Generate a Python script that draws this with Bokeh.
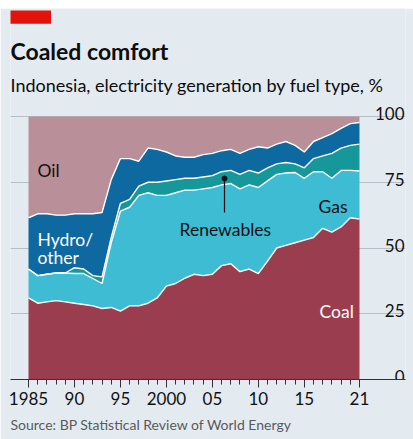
import numpy as np
from bokeh.plotting import figure
from bokeh.layouts import column
from bokeh.models import (ColumnDataSource, FixedTicker, Label, BoxAnnotation, Range1d,
                          Spacer, Title)
from bokeh.core.properties import value
from bokeh.embed import file_html
from bokeh.resources import INLINE

# ---------------- data (shares of electricity generation, %) ----------------
years = list(range(1985, 2022))
coal = [31, 29, 29.5, 30, 29.5, 29, 28.5, 28, 27, 27.4, 26, 28, 28, 29, 31, 35.5,
        36.5, 38.5, 40, 39.5, 40, 43.3, 44, 41, 42, 40.3, 45, 50, 51, 52, 53, 54,
        57.5, 56, 58, 61.5, 61]
gas = [11, 10.5, 10.5, 10.5, 11, 11.3, 11.8, 10.4, 9.5, 24.6, 38, 37.5, 42, 42, 39,
       34.5, 34.5, 33.5, 32, 33, 33, 30.7, 30.5, 31.5, 32, 32.7, 30.5, 28, 27.5,
       26.7, 23.5, 25, 21.5, 20.5, 21.5, 18, 18.3]
renewables = [0, 0, 0, 0, 0, 2.2, 1.7, 1.1, 2.5, 2, 3, 3, 3.5, 4, 5, 5.5, 5, 4.5,
              4.5, 4.5, 4.5, 5, 5, 5.5, 5.5, 5.5, 5, 4, 4, 3.3, 4, 5, 6, 9.5, 8.5,
              9.5, 10.2]
hydro_other = [19.5, 23.5, 23, 22, 22, 20.5, 21, 23.5, 24.5, 22, 17, 15.5, 9.5, 13,
               12.5, 11, 9, 8, 8, 8.5, 8.5, 8, 8, 8, 8, 10, 7.5, 7.5, 8, 7, 6, 6.5,
               7, 7.5, 7.5, 8.3, 8.2]
oil = [38.5, 37, 37, 37.5, 37.5, 37, 37, 37, 36.5, 24, 16, 16, 17, 12, 12.5, 13.5,
       15, 15.5, 15.5, 14.5, 14, 13, 12.5, 14, 12.5, 11.5, 12, 10.5, 9.5, 11, 13.5,
       9.5, 8, 6.5, 4.5, 2.7, 2.3]
series_names = ["coal", "gas", "renewables", "hydro_other", "oil"]
series_colors = ["#9a3d4f", "#3dbcd4", "#16979a", "#0d69a0", "#b99099"]

y_ticks = [0, 25, 50, 75, 100]
y_grid_ticks = [25, 50, 75, 100]
x_major_ticks = [1985, 1990, 1995, 2000, 2005, 2010, 2015, 2021]
x_tick_labels = ["1985", "90", "95", "2000", "05", "10", "15", "21"]

title_text = "Coaled comfort"
subtitle_text = "Indonesia, electricity generation by fuel type, %"
source_text = "Source: BP Statistical Review of World Energy"

# ---------------- layout helpers (screenshot pixel -> data) ----------------
PX_PER_YEAR = 9.194
PX_PER_PCT = 2.63
def px_x(ix):
    return 1985 + (ix - 28) / PX_PER_YEAR
def px_y(iy):
    return (379 - iy) / PX_PER_PCT

BG = "#e3ebf1"
FONT = "Lato"
INK = "#121212"

p = figure(width=413, height=431, output_backend="svg", toolbar_location=None,
           x_range=Range1d(px_x(10), px_x(405)), y_range=Range1d(0, px_y(8)),
           y_axis_location=None,
           min_border_left=10, min_border_right=8, min_border_top=0, min_border_bottom=60,
           background_fill_color=BG, border_fill_color=BG, outline_line_color=None)

p.xgrid.visible = False
p.ygrid.ticker = FixedTicker(ticks=y_grid_ticks)
p.ygrid.grid_line_color = "#b6bfc5"
p.ygrid.grid_line_width = 1.2

src = ColumnDataSource(dict(year=years, coal=coal, gas=gas, renewables=renewables,
                            hydro_other=hydro_other, oil=oil))
p.varea_stack(stackers=series_names, x="year", color=series_colors, source=src)
p.vline_stack(stackers=series_names[:-1], x="year", color="white", line_width=1.4,
              source=src)

# x axis
ax = p.xaxis[0]
ax.ticker = FixedTicker(ticks=x_major_ticks, minor_ticks=years)
ax.major_label_overrides = {k: v for k, v in zip(x_major_ticks, x_tick_labels)}
ax.axis_line_color = "#333333"
ax.axis_line_width = 1.2
ax.major_tick_line_color = "#333333"
ax.minor_tick_line_color = "#333333"
ax.major_tick_in = 0
ax.major_tick_out = 8
ax.minor_tick_in = 0
ax.minor_tick_out = 5
ax.major_label_standoff = 4
ax.major_label_text_font = FONT
ax.major_label_text_font_size = "17px"
ax.major_label_text_color = INK

# source line under the axis
p.add_layout(Title(text=source_text, align="left", text_font=FONT,
                   text_font_size="14px", text_font_style="normal",
                   text_color="#5a5a5a", standoff=12, offset=0), "below")

# y tick labels (right side, above gridlines)
p.text(x=[px_x(404)] * len(y_ticks), y=y_ticks, text=[str(t) for t in y_ticks],
       text_align="right", text_baseline="alphabetic", y_offset=-3,
       text_font=value(FONT), text_font_size="17px", text_color=INK)

# header
p.add_layout(BoxAnnotation(left=px_x(9), right=px_x(50.5), top=px_y(10), bottom=px_y(23.3),
                           fill_color="#e3120b", fill_alpha=1, line_alpha=0))
p.add_layout(Label(x=px_x(10), y=px_y(50), text=title_text, text_font=FONT,
                   text_font_style="bold", text_font_size="23px", text_color="#0d0d0d",
                   text_baseline="alphabetic"))
p.add_layout(Label(x=px_x(10), y=px_y(84), text=subtitle_text, text_font=FONT,
                   text_font_size="18px", text_color="#0d0d0d",
                   text_baseline="alphabetic"))

# series labels
def lab(x, y, t, color):
    p.add_layout(Label(x=px_x(x), y=px_y(y), text=t, text_font=FONT,
                       text_font_size="17.5px", text_color=color,
                       text_baseline="alphabetic"))
lab(37, 170, "Oil", INK)
lab(37, 239, "Hydro/", "white")
lab(37, 257, "other", "white")
lab(179, 229, "Renewables", INK)
lab(318, 206, "Gas", INK)
lab(319, 311, "Coal", "white")

# pointer for renewables
ptr_year = px_x(224)
p.segment(x0=[ptr_year], y0=[px_y(178)], x1=[ptr_year], y1=[px_y(212)],
          line_color=INK, line_width=1.2)
p.scatter(x=[ptr_year], y=[px_y(178)], size=5, color=INK)

page = column(Spacer(width=413, height=8), p, spacing=0)
open("out.html", "w").write(file_html(page, INLINE))
